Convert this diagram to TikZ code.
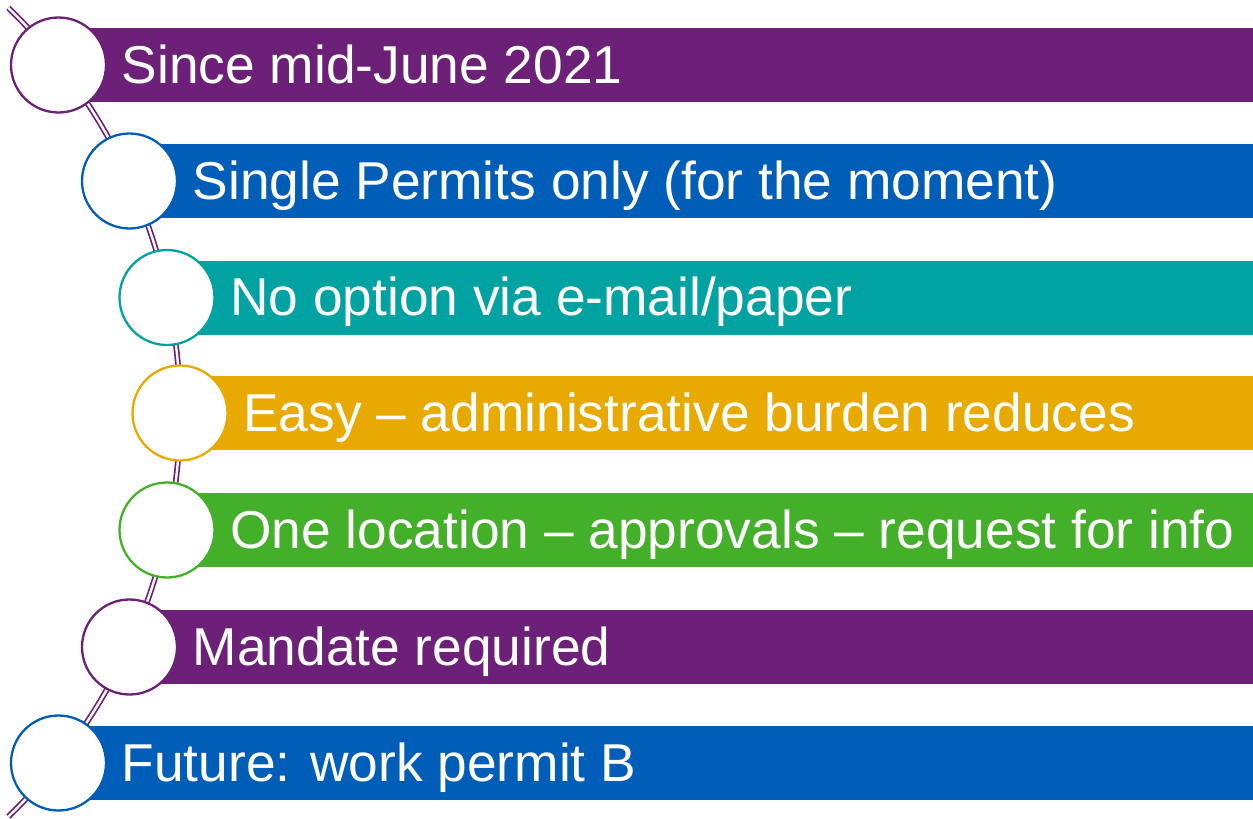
\documentclass[tikz,border=0pt]{standalone}
\usepackage{fontspec}
\setmainfont{Liberation Sans}
\definecolor{cpurple}{RGB}{108,32,120}
\definecolor{cblue}{RGB}{0,94,184}
\definecolor{cteal}{RGB}{0,163,161}
\definecolor{cgold}{RGB}{232,169,0}
\definecolor{cgreen}{RGB}{68,176,42}
\tikzset{
  bar/.style={fill=#1, draw=none},
  dot/.style={circle, draw=#1, fill=white, line width=2.3pt, minimum size=95pt, inner sep=0pt},
  lbl/.style={anchor=base west, text=white, inner sep=0pt, font=\fontsize{53.3}{60}\selectfont},
  track/.style={draw=cpurple, line width=1.7pt, double=white, double distance=2.4pt}
}
\begin{document}
\begin{tikzpicture}[x=1pt,y=-1pt]
\useasboundingbox (0,0) rectangle (1253,819);
\coordinate (top) at (8.4,8);
\draw[track] (top) arc[start angle=-46, end angle=46, radius=562] coordinate (bot);
\foreach \i/\cx/\cy/\col/\txt in {
  1/58.5/65/cpurple/{Since mid-June 2021},
  2/129.5/181/cblue/{Single Permits only (for the moment)},
  3/167/297.5/cteal/{No option via e-mail/paper},
  4/180/413/cgold/{Easy – administrative burden reduces},
  5/167/530/cgreen/{One location – approvals – request for info},
  6/129.5/647/cpurple/{Mandate required},
  7/58.5/763/cblue/{Future: work permit B}}{
  \fill[bar=\col] (\cx,\cy-37) rectangle (1253,\cy+37);
  \node[dot=\col] (c\i) at (\cx,\cy) {};
  \node[lbl] (t\i) at (\cx+63,\cy+18) {\txt};
}
\end{tikzpicture}
\end{document}
